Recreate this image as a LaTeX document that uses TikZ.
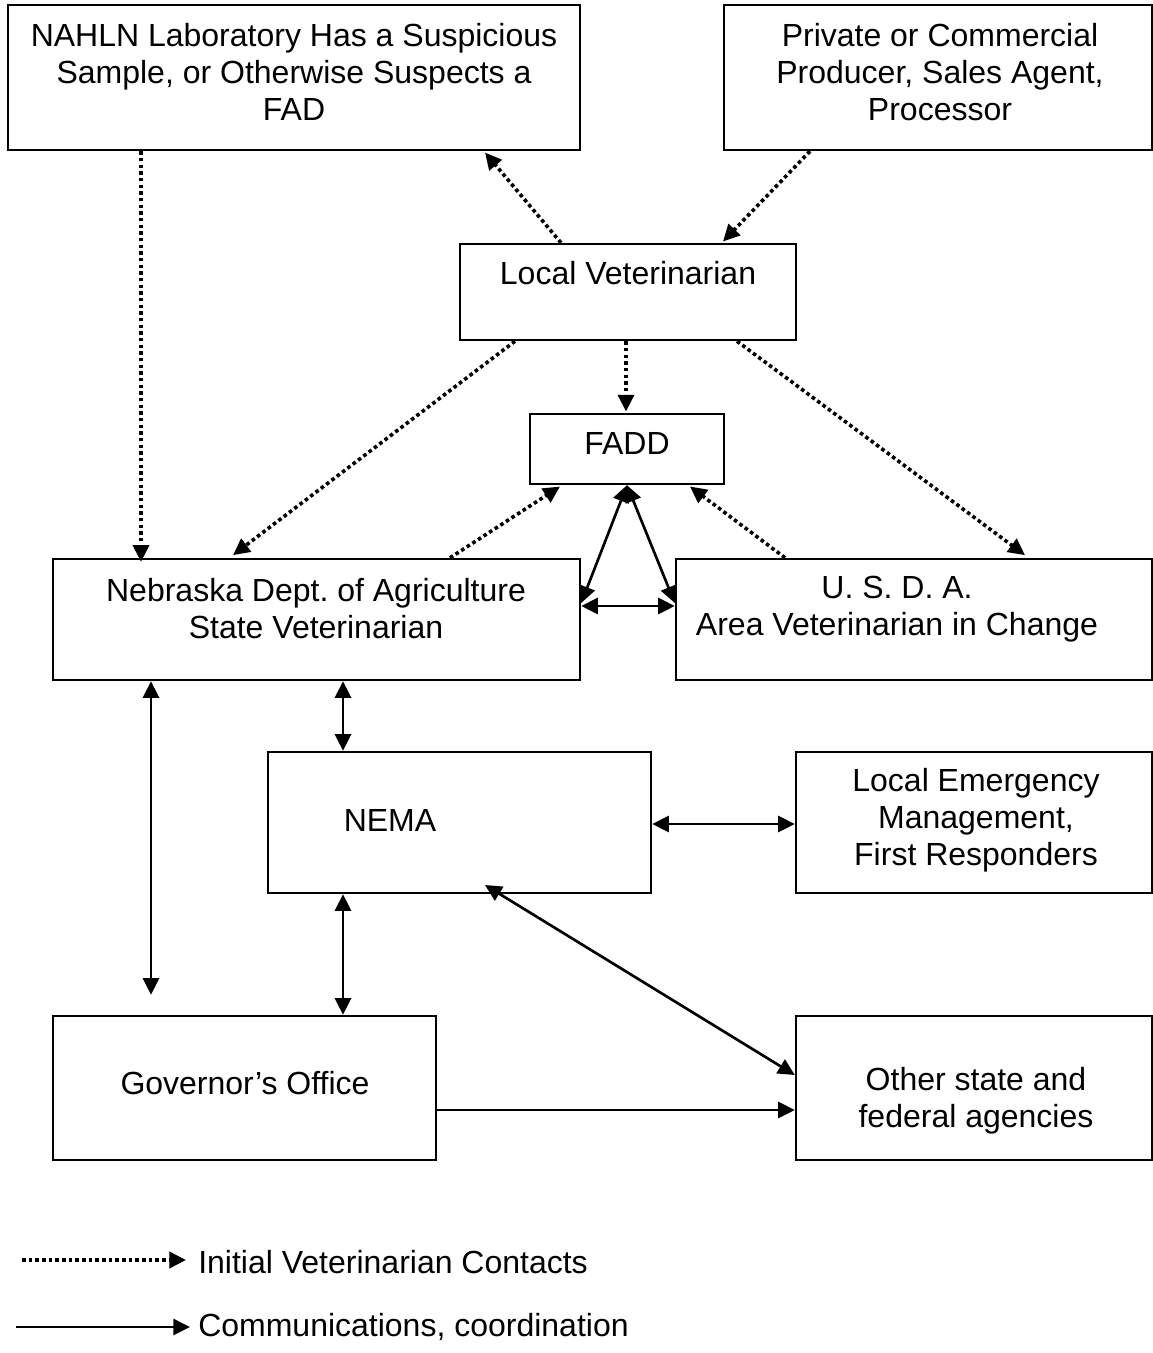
\documentclass[tikz,border=0pt]{standalone}
\usepackage{fontspec}
\setmainfont{Liberation Sans}
\usetikzlibrary{arrows.meta,fit}
\begin{document}
\frenchspacing
\begin{tikzpicture}[x=0.75pt,y=-0.75pt,
  box/.style={draw,line width=1.8pt,inner sep=0pt},
  txt/.style={align=center,inner sep=0pt,font=\fontsize{24}{27.75}\selectfont},
  dotarrow/.style={line width=2.7pt,dash pattern=on 2.7pt off 2.3pt,-{Triangle[length=12.5pt,width=12pt]}},
  solidarrow/.style={line width=2pt,-{Triangle[length=12.5pt,width=12pt]}},
  bothway/.style={line width=2pt,{Triangle[length=12.5pt,width=12pt]}-{Triangle[length=12.5pt,width=12pt]}}]
\useasboundingbox (0,0) rectangle (1153,1353);
% boxes
\node[box,fit={(8,5) (580,150)}] (nahln) {};
\node[box,fit={(724,5) (1152,150)}] (priv) {};
\node[box,fit={(460,244) (796,340)}] (lv) {};
\node[box,fit={(530,414) (724,484)}] (fadd) {};
\node[box,fit={(53,559) (580,680)}] (neb) {};
\node[box,fit={(676,559) (1152,680)}] (usda) {};
\node[box,fit={(268,752) (651,893)}] (nema) {};
\node[box,fit={(796,752) (1152,893)}] (lem) {};
\node[box,fit={(53,1016) (436,1160)}] (gov) {};
\node[box,fit={(796,1016) (1152,1160)}] (other) {};
% texts
\node[txt] (tnahln) at (294,72) {NAHLN Laboratory Has a Suspicious\\Sample, or Otherwise Suspects a\\FAD};
\node[txt] (tpriv) at (940,72) {Private or Commercial\\Producer, Sales Agent,\\Processor};
\node[txt] (tlv) at (628,273) {Local Veterinarian};
\node[txt] (tfadd) at (627,443) {FADD};
\node[txt] (tneb) at (316,609) {Nebraska Dept. of Agriculture\\State Veterinarian};
\node[txt] (tusda) at (897,609) {U. S. D. A.\\Area Veterinarian in Change};
\node[txt] (tnema) at (390,820) {NEMA};
\node[txt] (tlem) at (976,820) {Local Emergency\\Management,\\First Responders};
\node[txt] (tgov) at (245,1083) {Governor’s Office};
\node[txt] (tother) at (976,1101) {Other state and\\federal agencies};
% dotted connectors
\draw[dotarrow] (nahln.south -| 141,0) -- ([yshift=-3pt]neb.north -| 141,0);
\draw[dotarrow] (lv.north -| 561,0) -- ([yshift=-1pt]nahln.south -| 485,0);
\draw[dotarrow] (priv.south -| 810,0) -- ([yshift=1pt]lv.north -| 723,0);
\draw[dotarrow] (lv.south -| 626,0) -- ([yshift=1pt]fadd.north -| 626,0);
\draw[dotarrow] (lv.south -| 515,0) -- ([yshift=2pt]neb.north -| 233,0);
\draw[dotarrow] (lv.south -| 737,0) -- ([yshift=2pt]usda.north -| 1025,0);
\draw[dotarrow] (neb.north -| 450,0) -- ([yshift=-1pt]fadd.south -| 560,0);
\draw[dotarrow] (usda.north -| 785,0) -- ([yshift=-1pt]fadd.south -| 690,0);
% solid connectors
\draw[bothway] (fadd.south -| 627,0) -- (neb.east |- 0,603);
\draw[bothway] (fadd.south -| 627,0) -- (usda.west |- 0,603);
\draw[bothway] (neb.east |- 0,606) -- (usda.west |- 0,606);
\draw[bothway,shorten >=15pt] (neb.south -| 151,0) -- (gov.north -| 151,0);
\draw[bothway] (neb.south -| 343,0) -- (nema.north -| 343,0);
\draw[bothway] (nema.south -| 343,0) -- (gov.north -| 343,0);
\draw[bothway] (nema.east |- 0,824) -- (lem.west |- 0,824);
\draw[bothway] (485,885) -- (other.west |- 0,1075);
\draw[solidarrow] (gov.east |- 0,1110) -- (other.west |- 0,1110);
% legend
\coordinate (l1a) at (22,1260);
\coordinate (l1b) at (186,1260);
\coordinate (l2a) at (16,1327);
\coordinate (l2b) at (190,1327);
\draw[dotarrow] (l1a) -- (l1b);
\draw[solidarrow] (l2a) -- (l2b);
\node[txt,anchor=west] (leg1) at (198,1262) {Initial Veterinarian Contacts};
\node[txt,anchor=west] (leg2) at (198,1327) {Communications, coordination};
\end{tikzpicture}
\end{document}
